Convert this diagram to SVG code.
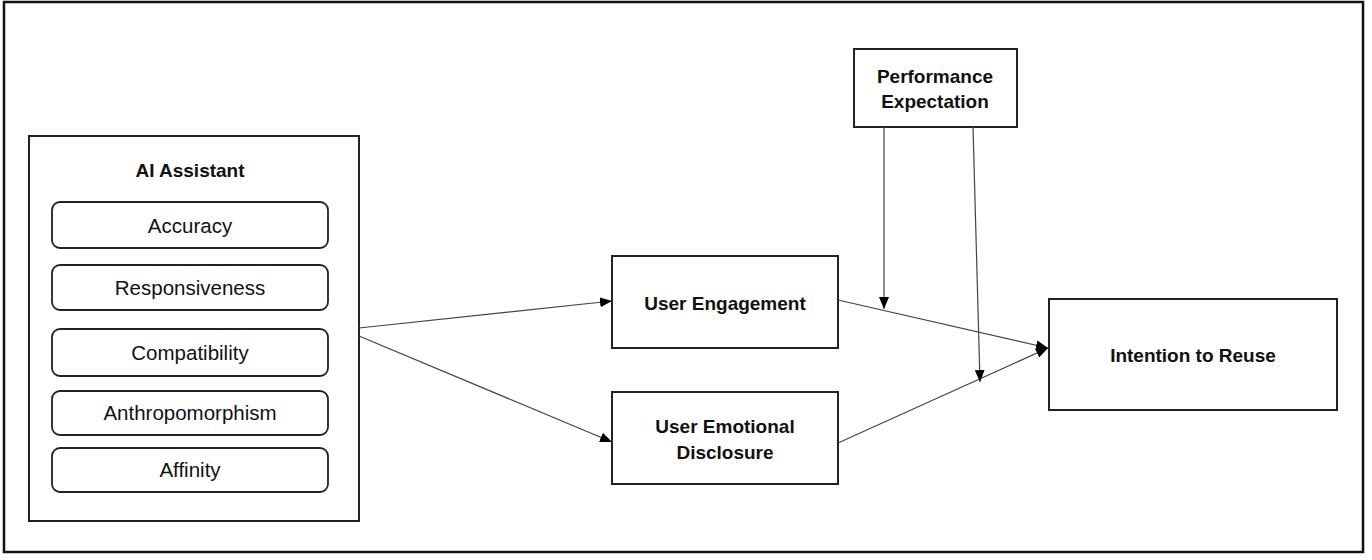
<svg xmlns="http://www.w3.org/2000/svg" width="1372" height="560" viewBox="0 0 1372 560">
<style>
.box{fill:#fff;stroke:#222;stroke-width:2}
.sub{fill:#fff;stroke:#222;stroke-width:1.8}
.b{font-family:"Liberation Sans",Arial,sans-serif;font-weight:bold;font-size:19px;fill:#111;text-anchor:middle}
.r{font-family:"Liberation Sans",Arial,sans-serif;font-size:20.5px;fill:#111;text-anchor:middle}
.c{stroke:#444;stroke-width:1.2;fill:none;marker-end:url(#ah)}
</style>
<defs>
<marker id="ah" viewBox="0 0 12 10" refX="12" refY="5" markerWidth="12" markerHeight="10" markerUnits="userSpaceOnUse" orient="auto">
<path d="M0,0 L12,5 L0,10 Z" fill="#000"/>
</marker>
</defs>
<rect x="4" y="2" width="1359" height="550" fill="#fff" stroke="#111" stroke-width="2.5"/>
<g id="ai-assistant">
<rect class="box" x="29" y="136" width="330" height="385"/>
<text class="b" x="190" y="177">AI Assistant</text>
<g id="accuracy"><rect class="sub" x="52" y="202" width="276" height="46" rx="8"/><text class="r" x="190" y="233">Accuracy</text></g>
<g id="responsiveness"><rect class="sub" x="52" y="265" width="276" height="45" rx="8"/><text class="r" x="190" y="295">Responsiveness</text></g>
<g id="compatibility"><rect class="sub" x="52" y="329" width="276" height="47" rx="8"/><text class="r" x="190" y="360">Compatibility</text></g>
<g id="anthropomorphism"><rect class="sub" x="52" y="391" width="276" height="44" rx="8"/><text class="r" x="190" y="420">Anthropomorphism</text></g>
<g id="affinity"><rect class="sub" x="52" y="448" width="276" height="44" rx="8"/><text class="r" x="190" y="477">Affinity</text></g>
</g>
<g id="user-engagement"><rect class="box" x="612" y="256" width="226" height="92"/><text class="b" x="725" y="310">User Engagement</text></g>
<g id="user-emotional-disclosure"><rect class="box" x="612" y="392" width="226" height="92"/><text class="b" x="725" y="433">User Emotional</text><text class="b" x="725" y="459">Disclosure</text></g>
<g id="performance-expectation"><rect class="box" x="854" y="49" width="163" height="78"/><text class="b" x="935" y="83">Performance</text><text class="b" x="935" y="108">Expectation</text></g>
<g id="intention-to-reuse"><rect class="box" x="1049" y="299" width="288" height="111"/><text class="b" x="1193" y="362">Intention to Reuse</text></g>
<g id="connectors">
<line class="c" x1="359" y1="328" x2="612" y2="301"/>
<line class="c" x1="359" y1="336" x2="612" y2="442"/>
<line class="c" x1="838" y1="300" x2="1048" y2="348"/>
<line class="c" x1="838" y1="443" x2="1048" y2="348"/>
<line class="c" x1="884" y1="127" x2="884" y2="309"/>
<line class="c" x1="973" y1="127" x2="980" y2="382"/>
</g>
</svg>
